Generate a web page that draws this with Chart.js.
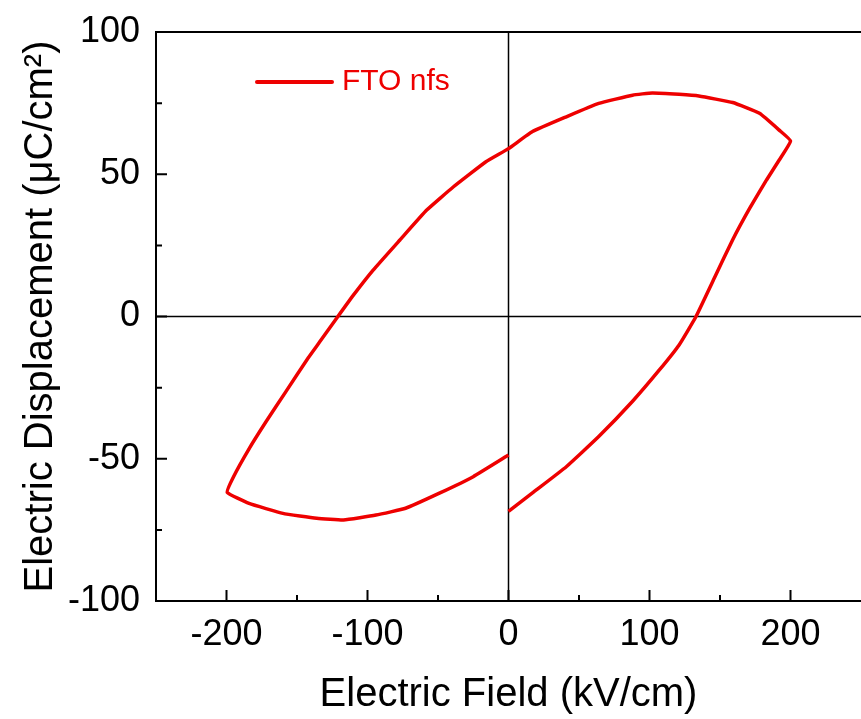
<!DOCTYPE html>
<html>
<head>
<meta charset="utf-8">
<title>P-E loop</title>
<script src="https://cdn.jsdelivr.net/npm/chart.js@4/dist/chart.umd.min.js"></script>
<style>
  body { margin: 0; background: #fff; }
  #wrap { width: 861px; height: 719px; }
</style>
</head>
<body>
<div id="wrap"><canvas id="loopChart"></canvas></div>
<script>
// loop read off the picture, in measuring order:
// 0 -> +200 (lower right), +200 -> -200 (upper), -200 -> 0 (lower left)
var fieldVals = [
    0, 17, 41, 64, 88, 107, 121, 133, 146, 159, 171, 183, 192, 200,
    192, 178, 159, 135, 121, 102, 88, 64, 41, 17, 0,
    -16, -39, -58, -77, -96, -110, -121, -134, -142, -158, -172, -184, -195, -199.5,
    -184, -160, -136, -117, -94, -73, -49, -25, 0
];
var dispVals = [
    -68.5, -62, -52.8, -42.2, -29.8, -18.8, -10, 0, 13.5, 27, 38, 48, 55, 61.7,
    65.5, 71.4, 75.2, 77.5, 78.1, 78.6, 77.8, 74.9, 70.2, 65, 59,
    54.4, 45.6, 37.4, 26.9, 16.3, 7.5, 0, -9, -14.5, -26.5, -37, -46.5, -56.3, -61.8,
    -65.7, -69.2, -70.9, -71.5, -69.8, -67.4, -62.1, -56.3, -48.7
];
var seriesName = 'FTO nfs';
var xTicks = [-200, -100, 0, 100, 200];
var xMinorTicks = [-150, -50, 50, 150];
var yTicks = [-100, -50, 0, 50, 100];
var yMinorTicks = [-75, -25, 25, 75];

var lineRed = 'rgb(238, 0, 0)';
var fontName = '"Liberation Sans", Arial, sans-serif';

var points = fieldVals.map(function(x, i) {
    return { x: x, y: dispVals[i] };
});

// zero lines under the curve, frame + inward ticks + legend on top
var framePlugin = {
    id: 'frame',
    beforeDatasetsDraw: function(chart) {
        var ctx = chart.ctx, a = chart.chartArea;
        var x0 = chart.scales.x.getPixelForValue(0);
        var y0 = chart.scales.y.getPixelForValue(0);
        ctx.save();
        ctx.strokeStyle = '#000';
        ctx.lineWidth = 1.5;
        ctx.beginPath();
        ctx.moveTo(x0, a.top); ctx.lineTo(x0, a.bottom);
        ctx.moveTo(a.left, y0); ctx.lineTo(a.right, y0);
        ctx.stroke();
        ctx.restore();
    },
    afterDatasetsDraw: function(chart) {
        var ctx = chart.ctx, a = chart.chartArea;
        var sx = chart.scales.x, sy = chart.scales.y;
        ctx.save();
        ctx.strokeStyle = '#000';
        ctx.lineWidth = 2;
        ctx.beginPath();
        ctx.moveTo(a.right + 2, a.top); ctx.lineTo(a.left, a.top);
        ctx.lineTo(a.left, a.bottom); ctx.lineTo(a.right + 2, a.bottom);
        ctx.stroke();

        ctx.beginPath();
        xTicks.forEach(function(v) {
            var px = sx.getPixelForValue(v);
            ctx.moveTo(px, a.bottom); ctx.lineTo(px, a.bottom - 11);
        });
        xMinorTicks.forEach(function(v) {
            var px = sx.getPixelForValue(v);
            ctx.moveTo(px, a.bottom); ctx.lineTo(px, a.bottom - 6);
        });
        yTicks.forEach(function(v) {
            var py = sy.getPixelForValue(v);
            ctx.moveTo(a.left, py); ctx.lineTo(a.left + 11, py);
        });
        yMinorTicks.forEach(function(v) {
            var py = sy.getPixelForValue(v);
            ctx.moveTo(a.left, py); ctx.lineTo(a.left + 6, py);
        });
        ctx.stroke();

        // legend
        var ds = chart.data.datasets[0];
        var lx = a.left + 101, ly = a.top + 50;
        ctx.strokeStyle = ds.borderColor;
        ctx.lineWidth = 4;
        ctx.lineCap = 'round';
        ctx.beginPath();
        ctx.moveTo(lx, ly); ctx.lineTo(lx + 75, ly);
        ctx.stroke();
        ctx.fillStyle = ds.borderColor;
        ctx.font = '30px ' + fontName;
        ctx.textBaseline = 'middle';
        ctx.fillText(ds.label, lx + 85, ly);
        ctx.restore();
    }
};

new Chart(document.getElementById('loopChart'), {
    type: 'scatter',
    data: {
        datasets: [{
            label: seriesName,
            data: points,
            showLine: true,
            borderColor: lineRed,
            backgroundColor: lineRed,
            borderWidth: 3.5,
            pointRadius: 0,
            tension: 0.12
        }]
    },
    options: {
        responsive: true,
        maintainAspectRatio: false,
        animation: false,
        layout: { padding: { top: 32, right: 0, left: 0, bottom: 0 } },
        plugins: {
            legend: { display: false },
            tooltip: { enabled: false }
        },
        scales: {
            x: {
                type: 'linear',
                min: -250,
                max: 250,
                afterBuildTicks: function(s) {
                    s.ticks = xTicks.map(function(v) { return { value: v }; });
                },
                afterFit: function(s) {
                    s.height = 118;
                    s.paddingLeft = 0;
                    s.paddingRight = 0;
                },
                grid: { display: false, drawTicks: false },
                border: { display: false },
                ticks: {
                    color: '#000',
                    padding: 12,
                    maxRotation: 0,
                    font: { family: fontName, size: 36 }
                },
                title: {
                    display: true,
                    text: 'Electric Field (kV/cm)',
                    color: '#000',
                    padding: { top: 21, bottom: 0 },
                    font: { family: fontName, size: 40 }
                }
            },
            y: {
                type: 'linear',
                min: -100,
                max: 100,
                afterBuildTicks: function(s) {
                    s.ticks = yTicks.map(function(v) { return { value: v }; });
                },
                afterFit: function(s) {
                    s.width = 156;
                    s.paddingTop = 0;
                    s.paddingBottom = 0;
                },
                grid: { display: false, drawTicks: false },
                border: { display: false },
                ticks: {
                    color: '#000',
                    padding: 16,
                    font: { family: fontName, size: 36 }
                },
                title: {
                    display: true,
                    text: 'Electric Displacement (\u03bcC/cm\u00b2)',
                    color: '#000',
                    padding: { top: 17, bottom: 0 },
                    font: { family: fontName, size: 40 }
                }
            }
        }
    },
    plugins: [framePlugin]
});
</script>
</body>
</html>
